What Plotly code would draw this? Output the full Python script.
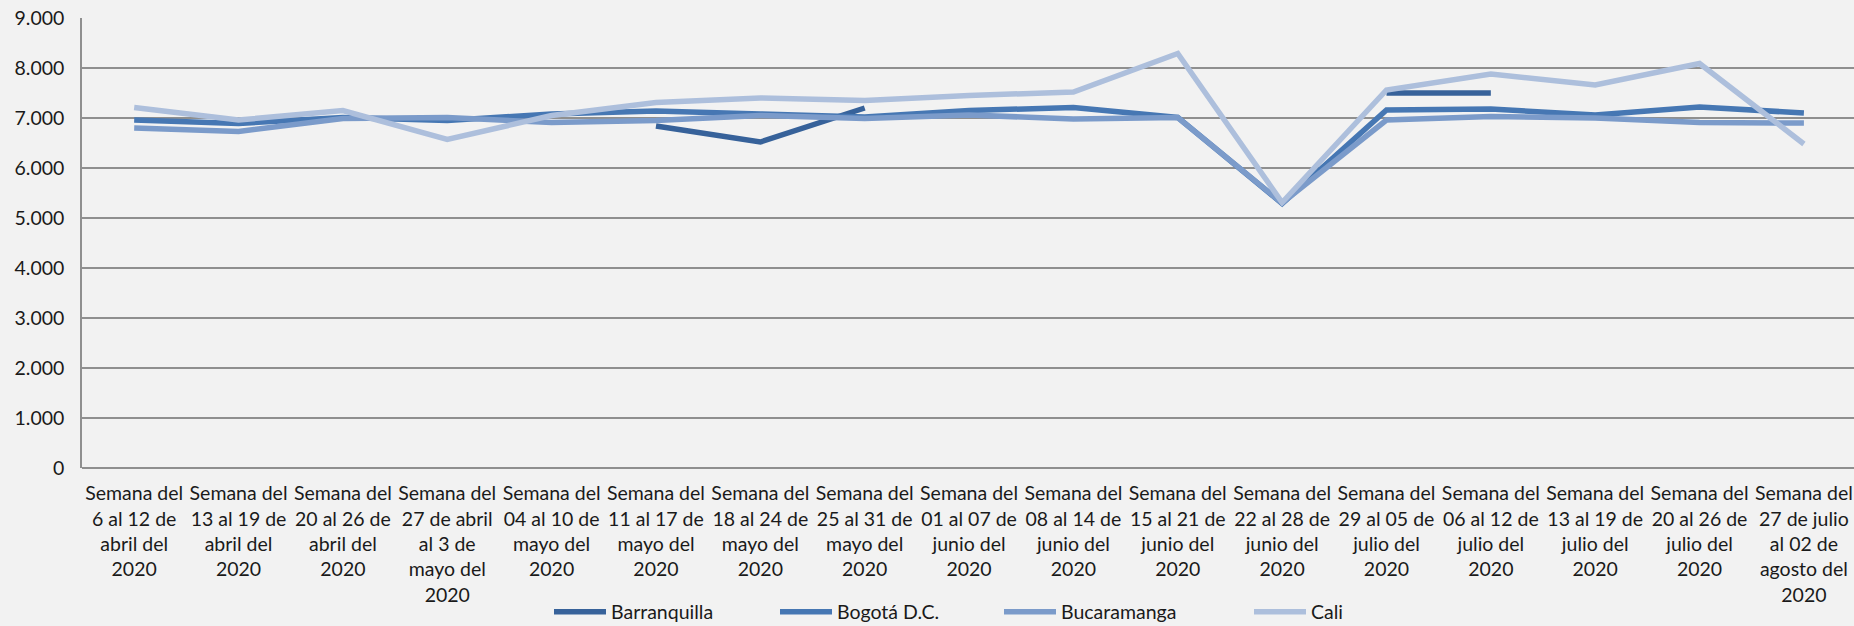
import plotly.graph_objects as go

categories = [
    "Semana del<br>6 al 12 de<br>abril del<br>2020",
    "Semana del<br>13 al 19 de<br>abril del<br>2020",
    "Semana del<br>20 al 26 de<br>abril del<br>2020",
    "Semana del<br>27 de abril<br>al 3 de<br>mayo del<br>2020",
    "Semana del<br>04 al 10 de<br>mayo del<br>2020",
    "Semana del<br>11 al 17 de<br>mayo del<br>2020",
    "Semana del<br>18 al 24 de<br>mayo del<br>2020",
    "Semana del<br>25 al 31 de<br>mayo del<br>2020",
    "Semana del<br>01 al 07 de<br>junio del<br>2020",
    "Semana del<br>08 al 14 de<br>junio del<br>2020",
    "Semana del<br>15 al 21 de<br>junio del<br>2020",
    "Semana del<br>22 al 28 de<br>junio del<br>2020",
    "Semana del<br>29 al 05 de<br>julio del<br>2020",
    "Semana del<br>06 al 12 de<br>julio del<br>2020",
    "Semana del<br>13 al 19 de<br>julio del<br>2020",
    "Semana del<br>20 al 26 de<br>julio del<br>2020",
    "Semana del<br>27 de julio<br>al 02 de<br>agosto del<br>2020",
]

barranquilla = [None, None, None, None, None, 6840, 6520, 7200, None, None, None, None, 7500, 7500, None, None, None]
bogota = [6960, 6890, 7010, 6950, 7080, 7140, 7080, 7020, 7150, 7210, 7010, 5290, 7160, 7180, 7060, 7220, 7100]
bucaramanga = [6800, 6730, 6990, 7010, 6910, 6950, 7050, 6990, 7060, 6980, 7010, 5300, 6960, 7030, 7000, 6910, 6900]
cali = [7210, 6960, 7150, 6570, 7050, 7310, 7400, 7350, 7450, 7520, 8290, 5310, 7560, 7880, 7660, 8090, 6480]

y_ticks = [0, 1000, 2000, 3000, 4000, 5000, 6000, 7000, 8000, 9000]

series = [
    ("Barranquilla", barranquilla, "#37629a"),
    ("Bogotá D.C.", bogota, "#4677b3"),
    ("Bucaramanga", bucaramanga, "#7b9bca"),
    ("Cali", cali, "#adbfdc"),
]
legend_ids = ["legend", "legend2", "legend3", "legend4"]
legend_x_px = [549, 775, 999, 1249]

fig = go.Figure()
for (name, vals, color), lid in zip(series, legend_ids):
    fig.add_trace(go.Scatter(
        x=list(range(len(categories))), y=vals, name=name, mode="lines",
        line=dict(color=color, width=5.5), connectgaps=False, legend=lid,
    ))

font_family = "Lato, Noto Sans, sans-serif"
legend_common = dict(
    orientation="h", xref="container", yref="container", xanchor="left",
    y=1 - 612 / 626, yanchor="middle", font=dict(size=19.5),
    bgcolor="rgba(0,0,0,0)", itemwidth=52,
)
legends = {}
for lid, px in zip(legend_ids, legend_x_px):
    legends[lid] = dict(legend_common, x=px / 1854)

fig.update_layout(
    width=1854, height=626,
    paper_bgcolor="#f2f2f2", plot_bgcolor="#f2f2f2",
    margin=dict(l=82, r=0, t=18, b=158),
    separators=",.",
    font=dict(family=font_family, size=19.5, color="#1a1a1a"),
    showlegend=True,
    xaxis=dict(
        tickmode="array", tickvals=list(range(len(categories))), ticktext=categories,
        range=[-0.5, 16.48], showgrid=False, zeroline=False, automargin=False,
        showline=False, ticks="outside", ticklen=8, tickcolor="rgba(0,0,0,0)",
        tickfont=dict(size=19.5), tickangle=0, ticklabeloverflow="allow",
    ),
    yaxis=dict(
        range=[0, 9000], tickvals=y_ticks, tickformat=",d", automargin=False,
        showgrid=True, gridcolor="#8f8f8f", gridwidth=1.5,
        zeroline=True, zerolinecolor="#8f8f8f", zerolinewidth=1.5,
        showline=True, linecolor="#8f8f8f", linewidth=1.5,
        ticks="outside", ticklen=12, tickcolor="rgba(0,0,0,0)",
        tickfont=dict(size=19.5),
    ),
    **legends,
)

fig.write_html(
    "out.html",
    config={"displayModeBar": False},
    post_script="document.body.style.margin='0';document.body.style.overflow='hidden';",
)
